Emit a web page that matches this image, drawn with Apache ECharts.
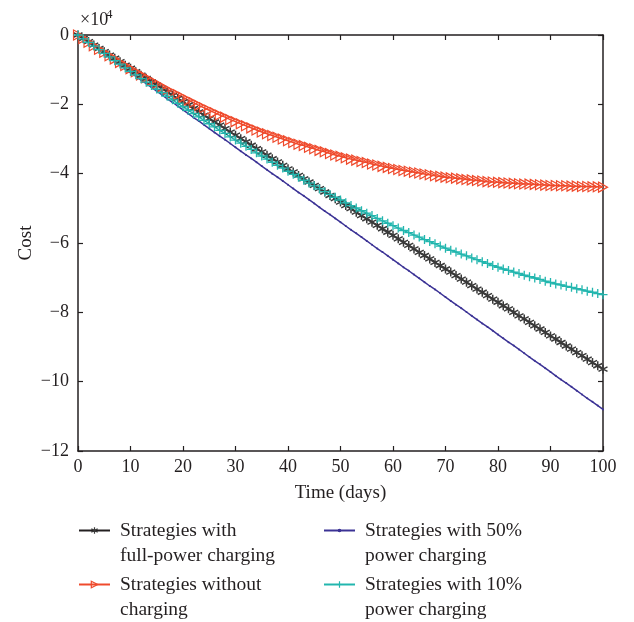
<!DOCTYPE html>
<html>
<head>
<meta charset="utf-8">
<script src="https://cdn.jsdelivr.net/npm/echarts@6.0.0/dist/echarts.min.js"></script>
<style>html,body{margin:0;padding:0;background:#fff}#main{width:634px;height:622px}</style>
</head>
<body>
<div id="main"></div>
<script>
// time axis (days) and cost values in units of 1e4
var days = [0,1,2,3,4,5,6,7,8,9,10,11,12,13,14,15,16,17,18,19,20,21,22,23,24,25,26,27,28,29,30,
  31,32,33,34,35,36,37,38,39,40,41,42,43,44,45,46,47,48,49,50,51,52,53,54,55,56,57,58,59,60,
  61,62,63,64,65,66,67,68,69,70,71,72,73,74,75,76,77,78,79,80,81,82,83,84,85,86,87,88,89,90,
  91,92,93,94,95,96,97,98,99,100];

var fullPower = [0,-0.10,-0.19,-0.29,-0.39,-0.48,-0.58,-0.67,-0.77,-0.87,-0.96,
  -1.06,-1.16,-1.25,-1.35,-1.45,-1.54,-1.64,-1.74,-1.83,-1.93,
  -2.02,-2.12,-2.22,-2.31,-2.41,-2.51,-2.60,-2.70,-2.80,-2.89,
  -2.99,-3.08,-3.18,-3.28,-3.37,-3.47,-3.57,-3.66,-3.76,-3.86,
  -3.95,-4.05,-4.15,-4.24,-4.34,-4.43,-4.53,-4.63,-4.72,-4.82,
  -4.92,-5.01,-5.11,-5.21,-5.30,-5.40,-5.49,-5.59,-5.69,-5.78,
  -5.88,-5.98,-6.07,-6.17,-6.27,-6.36,-6.46,-6.56,-6.65,-6.75,
  -6.84,-6.94,-7.04,-7.13,-7.23,-7.33,-7.42,-7.52,-7.62,-7.71,
  -7.81,-7.90,-8.00,-8.10,-8.19,-8.29,-8.39,-8.48,-8.58,-8.68,
  -8.77,-8.87,-8.97,-9.06,-9.16,-9.25,-9.35,-9.45,-9.54,-9.64];

var noCharging = [0,-0.10,-0.21,-0.31,-0.41,-0.50,-0.60,-0.69,-0.79,-0.88,-0.97,
  -1.06,-1.15,-1.23,-1.32,-1.40,-1.49,-1.57,-1.65,-1.72,-1.80,
  -1.88,-1.95,-2.03,-2.10,-2.17,-2.24,-2.31,-2.37,-2.44,-2.50,
  -2.56,-2.62,-2.68,-2.74,-2.80,-2.85,-2.90,-2.95,-3.00,-3.05,
  -3.10,-3.15,-3.19,-3.24,-3.28,-3.33,-3.37,-3.42,-3.46,-3.50,
  -3.54,-3.58,-3.61,-3.65,-3.68,-3.72,-3.75,-3.79,-3.82,-3.85,
  -3.88,-3.91,-3.93,-3.96,-3.98,-4.01,-4.03,-4.06,-4.08,-4.10,
  -4.12,-4.13,-4.15,-4.17,-4.18,-4.20,-4.21,-4.23,-4.24,-4.25,
  -4.26,-4.27,-4.28,-4.29,-4.30,-4.30,-4.31,-4.32,-4.33,-4.34,
  -4.34,-4.35,-4.35,-4.36,-4.36,-4.37,-4.37,-4.38,-4.38,-4.39];

var halfPower = [0,-0.11,-0.22,-0.32,-0.43,-0.54,-0.65,-0.76,-0.86,-0.97,-1.08,
  -1.19,-1.30,-1.40,-1.51,-1.62,-1.73,-1.84,-1.94,-2.05,-2.16,
  -2.27,-2.38,-2.48,-2.59,-2.70,-2.81,-2.92,-3.02,-3.13,-3.24,
  -3.35,-3.46,-3.56,-3.67,-3.78,-3.89,-4.00,-4.10,-4.21,-4.32,
  -4.43,-4.54,-4.64,-4.75,-4.86,-4.97,-5.08,-5.18,-5.29,-5.40,
  -5.51,-5.62,-5.72,-5.83,-5.94,-6.05,-6.16,-6.26,-6.37,-6.48,
  -6.59,-6.70,-6.80,-6.91,-7.02,-7.13,-7.24,-7.34,-7.45,-7.56,
  -7.67,-7.78,-7.88,-7.99,-8.10,-8.21,-8.32,-8.42,-8.53,-8.64,
  -8.75,-8.86,-8.96,-9.07,-9.18,-9.29,-9.40,-9.50,-9.61,-9.72,
  -9.83,-9.94,-10.04,-10.15,-10.26,-10.37,-10.48,-10.58,-10.69,-10.80];

var tenPower = [0,-0.11,-0.21,-0.32,-0.42,-0.53,-0.63,-0.74,-0.84,-0.95,-1.05,
  -1.15,-1.26,-1.36,-1.46,-1.56,-1.66,-1.77,-1.87,-1.97,-2.07,
  -2.17,-2.27,-2.36,-2.46,-2.56,-2.65,-2.75,-2.84,-2.94,-3.03,
  -3.12,-3.21,-3.30,-3.40,-3.49,-3.58,-3.67,-3.76,-3.84,-3.93,
  -4.02,-4.10,-4.19,-4.27,-4.35,-4.44,-4.52,-4.60,-4.68,-4.76,
  -4.84,-4.92,-4.99,-5.07,-5.14,-5.21,-5.29,-5.36,-5.43,-5.50,
  -5.57,-5.64,-5.70,-5.77,-5.83,-5.90,-5.96,-6.02,-6.09,-6.15,
  -6.21,-6.26,-6.32,-6.37,-6.43,-6.48,-6.54,-6.59,-6.65,-6.70,
  -6.75,-6.79,-6.84,-6.88,-6.93,-6.97,-7.01,-7.05,-7.10,-7.14,
  -7.18,-7.21,-7.25,-7.28,-7.32,-7.35,-7.39,-7.42,-7.46,-7.49];

var names = [
  'Strategies with\nfull-power charging',
  'Strategies without\ncharging',
  'Strategies with 50%\npower charging',
  'Strategies with 10%\npower charging'
];

var font = 'Liberation Serif';
var ink = '#231f20';
var colors = ['#3a3a3a', '#ef4a2c', '#3b3295', '#22b6ae'];

var chartDom = document.getElementById('main');
var myChart = echarts.init(chartDom);
var option;

function pairs(vals) {
  return vals.map(function (v, i) { return [days[i], v]; });
}

function minus(v) {
  return v < 0 ? '\u2212' + Math.abs(v) : String(v);
}

// one legend per entry; a blank first line lets the icon sit on the first text line
function legendFor(i, left, top, iconH, fill) {
  return {
    left: left, top: top, padding: 0,
    itemWidth: 31, itemHeight: iconH,
    selectedMode: false,
    formatter: function (name) { return ' \n' + name; },
    textStyle: { fontFamily: font, fontSize: 19.5, lineHeight: 25, color: ink, padding: [0, 0, 0, 5] },
    data: [{
      name: names[i],
      itemStyle: { color: fill || 'rgba(0,0,0,0)', borderColor: colors[i], borderWidth: 1.2 }
    }]
  };
}

var tick = { show: true, inside: true, length: 5, lineStyle: { color: ink, width: 1.2 } };
var line = { show: true, onZero: false, lineStyle: { color: ink, width: 1.5 } };

option = {
  animation: false,
  backgroundColor: '#fff',
  grid: { left: 78, right: 31, top: 35, bottom: 171 },
  graphic: [
    { type: 'text', left: 80, top: 11, style: { text: '\u00d710', fontFamily: font, fontSize: 18, fill: ink } },
    { type: 'text', left: 106, top: 8, style: { text: '4', fontFamily: font, fontSize: 13, fill: ink } }
  ],
  legend: [
    legendFor(0, 78, 493, 8),
    legendFor(1, 78, 547, 8),
    legendFor(2, 323, 493, 3, colors[2]),
    legendFor(3, 323, 547, 8)
  ],
  xAxis: [
    {
      type: 'value', min: 0, max: 100, interval: 10,
      name: 'Time (days)', nameLocation: 'middle', nameGap: 33, nameMoveOverlap: false,
      nameTextStyle: { fontFamily: font, fontSize: 19, color: ink },
      axisLine: line, axisTick: tick, splitLine: { show: false },
      axisLabel: { fontFamily: font, fontSize: 18, color: ink, margin: 7 }
    },
    {
      type: 'value', min: 0, max: 100, interval: 10, position: 'top',
      axisLine: line, axisTick: tick, splitLine: { show: false },
      axisLabel: { show: false }
    }
  ],
  yAxis: [
    {
      type: 'value', min: -12, max: 0, interval: 2,
      name: 'Cost', nameLocation: 'middle', nameGap: 42, nameMoveOverlap: false,
      nameTextStyle: { fontFamily: font, fontSize: 19, color: ink },
      axisLine: line, axisTick: tick, splitLine: { show: false },
      axisLabel: { fontFamily: font, fontSize: 18, color: ink, margin: 9, formatter: minus }
    },
    {
      type: 'value', min: -12, max: 0, interval: 2, position: 'right',
      axisLine: line, axisTick: tick, splitLine: { show: false },
      axisLabel: { show: false }
    }
  ],
  series: [
    {
      name: names[0], type: 'line', data: pairs(fullPower),
      symbol: 'path://M5,0L5,10M0.67,2.5L9.33,7.5M0.67,7.5L9.33,2.5',
      symbolSize: 9,
      lineStyle: { color: '#231f20', width: 1.5 },
      itemStyle: { color: 'rgba(0,0,0,0)', borderColor: colors[0], borderWidth: 1.5 }
    },
    {
      name: names[1], type: 'line', data: pairs(noCharging),
      symbol: 'path://M0,0L10,5L0,10Z',
      symbolSize: [9, 10],
      lineStyle: { color: colors[1], width: 1.5 },
      itemStyle: { color: 'rgba(0,0,0,0)', borderColor: colors[1], borderWidth: 1.2 }
    },
    {
      name: names[2], type: 'line', data: pairs(halfPower),
      symbol: 'circle', symbolSize: 2,
      lineStyle: { color: colors[2], width: 1.5 },
      itemStyle: { color: colors[2] }
    },
    {
      name: names[3], type: 'line', data: pairs(tenPower),
      symbol: 'path://M5,0L5,10M0,5L10,5',
      symbolSize: 9,
      lineStyle: { color: colors[3], width: 1.5 },
      itemStyle: { color: 'rgba(0,0,0,0)', borderColor: colors[3], borderWidth: 1.3 }
    }
  ]
};

option && myChart.setOption(option);
</script>
</body>
</html>
